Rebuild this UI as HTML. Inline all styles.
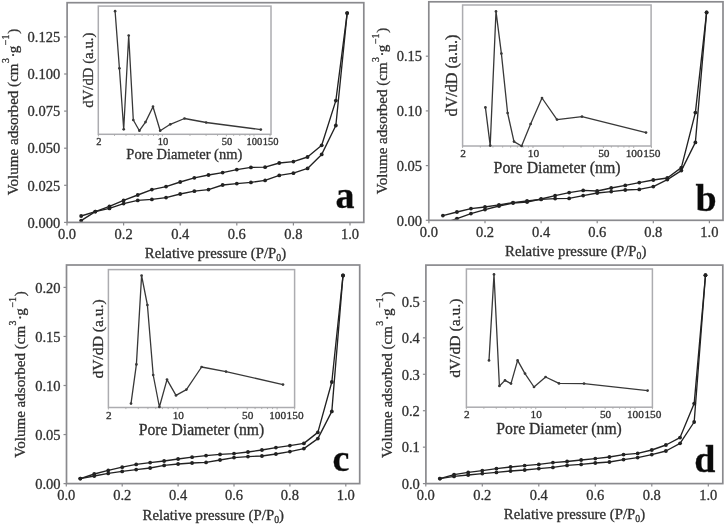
<!DOCTYPE html>
<html><head><meta charset="utf-8"><style>
html,body{margin:0;padding:0;background:#fff;}
svg{display:block;filter:blur(0.35px);}
text{font-family:"Liberation Serif", serif;fill:#303030;stroke:#303030;stroke-width:0.3px;}
</style></head><body>
<svg width="725" height="525" viewBox="0 0 725 525">
<rect width="725" height="525" fill="#fff"/>
<clipPath id="c0"><rect x="67.1" y="2.7" width="296.70000000000005" height="219.70000000000002"/></clipPath>
<line x1="67.00" y1="222.4" x2="67.00" y2="225.4" stroke="#8a8a8e" stroke-width="1.2"/>
<text x="67.00" y="239.0" text-anchor="middle" font-size="14.5">0.0</text>
<line x1="123.60" y1="222.4" x2="123.60" y2="225.4" stroke="#8a8a8e" stroke-width="1.2"/>
<text x="123.60" y="239.0" text-anchor="middle" font-size="14.5">0.2</text>
<line x1="180.20" y1="222.4" x2="180.20" y2="225.4" stroke="#8a8a8e" stroke-width="1.2"/>
<text x="180.20" y="239.0" text-anchor="middle" font-size="14.5">0.4</text>
<line x1="236.80" y1="222.4" x2="236.80" y2="225.4" stroke="#8a8a8e" stroke-width="1.2"/>
<text x="236.80" y="239.0" text-anchor="middle" font-size="14.5">0.6</text>
<line x1="293.40" y1="222.4" x2="293.40" y2="225.4" stroke="#8a8a8e" stroke-width="1.2"/>
<text x="293.40" y="239.0" text-anchor="middle" font-size="14.5">0.8</text>
<line x1="350.00" y1="222.4" x2="350.00" y2="225.4" stroke="#8a8a8e" stroke-width="1.2"/>
<text x="350.00" y="239.0" text-anchor="middle" font-size="14.5">1.0</text>
<line x1="64.1" y1="222.40" x2="67.1" y2="222.40" stroke="#8a8a8e" stroke-width="1.2"/>
<text x="60.2" y="227.62" text-anchor="end" font-size="14.5">0.000</text>
<line x1="64.1" y1="185.30" x2="67.1" y2="185.30" stroke="#8a8a8e" stroke-width="1.2"/>
<text x="60.2" y="190.52" text-anchor="end" font-size="14.5">0.025</text>
<line x1="64.1" y1="148.20" x2="67.1" y2="148.20" stroke="#8a8a8e" stroke-width="1.2"/>
<text x="60.2" y="153.42" text-anchor="end" font-size="14.5">0.050</text>
<line x1="64.1" y1="111.10" x2="67.1" y2="111.10" stroke="#8a8a8e" stroke-width="1.2"/>
<text x="60.2" y="116.32" text-anchor="end" font-size="14.5">0.075</text>
<line x1="64.1" y1="74.00" x2="67.1" y2="74.00" stroke="#8a8a8e" stroke-width="1.2"/>
<text x="60.2" y="79.22" text-anchor="end" font-size="14.5">0.100</text>
<line x1="64.1" y1="36.90" x2="67.1" y2="36.90" stroke="#8a8a8e" stroke-width="1.2"/>
<text x="60.2" y="42.12" text-anchor="end" font-size="14.5">0.125</text>
<text x="215.5" y="258.2" text-anchor="middle" font-size="14.8">Relative pressure (P/P<tspan font-size="9.8" dy="3">0</tspan><tspan dy="-3">)</tspan></text>
<text transform="translate(17.6,112.1) rotate(-90)" text-anchor="middle" font-size="15.07">Volume adsorbed (cm<tspan font-size="9.8" dx="0.4" dy="-8.4">3</tspan><tspan dx="0.6" dy="8.4">·</tspan><tspan dx="-0.8">g</tspan><tspan font-size="9.8" dx="0.6" dy="-8.4">−</tspan><tspan font-size="9.8" dx="0.1">1</tspan><tspan dx="0.8" dy="8.4">)</tspan></text>
<text x="335.6" y="208.3" font-size="38" font-weight="bold" style="fill:#0a0a0a">a</text>
<rect x="98.3" y="6.1" width="172.7" height="128.20000000000002" fill="#fff" stroke="#acacb0" stroke-width="1.5"/>
<line x1="98.40" y1="134.3" x2="98.40" y2="136.3" stroke="#a8a8a8" stroke-width="0.9"/>
<line x1="114.52" y1="134.3" x2="114.52" y2="135.9" stroke="#a8a8a8" stroke-width="0.9"/>
<line x1="125.96" y1="134.3" x2="125.96" y2="135.9" stroke="#a8a8a8" stroke-width="0.9"/>
<line x1="134.84" y1="134.3" x2="134.84" y2="135.9" stroke="#a8a8a8" stroke-width="0.9"/>
<line x1="142.09" y1="134.3" x2="142.09" y2="135.9" stroke="#a8a8a8" stroke-width="0.9"/>
<line x1="148.21" y1="134.3" x2="148.21" y2="135.9" stroke="#a8a8a8" stroke-width="0.9"/>
<line x1="153.52" y1="134.3" x2="153.52" y2="135.9" stroke="#a8a8a8" stroke-width="0.9"/>
<line x1="158.21" y1="134.3" x2="158.21" y2="135.9" stroke="#a8a8a8" stroke-width="0.9"/>
<line x1="162.40" y1="134.3" x2="162.40" y2="136.3" stroke="#a8a8a8" stroke-width="0.9"/>
<line x1="189.96" y1="134.3" x2="189.96" y2="135.9" stroke="#a8a8a8" stroke-width="0.9"/>
<line x1="206.08" y1="134.3" x2="206.08" y2="135.9" stroke="#a8a8a8" stroke-width="0.9"/>
<line x1="217.52" y1="134.3" x2="217.52" y2="135.9" stroke="#a8a8a8" stroke-width="0.9"/>
<line x1="226.40" y1="134.3" x2="226.40" y2="136.3" stroke="#a8a8a8" stroke-width="0.9"/>
<line x1="233.65" y1="134.3" x2="233.65" y2="135.9" stroke="#a8a8a8" stroke-width="0.9"/>
<line x1="239.77" y1="134.3" x2="239.77" y2="135.9" stroke="#a8a8a8" stroke-width="0.9"/>
<line x1="245.08" y1="134.3" x2="245.08" y2="135.9" stroke="#a8a8a8" stroke-width="0.9"/>
<line x1="249.77" y1="134.3" x2="249.77" y2="135.9" stroke="#a8a8a8" stroke-width="0.9"/>
<line x1="253.96" y1="134.3" x2="253.96" y2="136.3" stroke="#a8a8a8" stroke-width="0.9"/>
<line x1="270.08" y1="134.3" x2="270.08" y2="136.3" stroke="#a8a8a8" stroke-width="0.9"/>
<text x="98.90" y="144.6" text-anchor="middle" font-size="10.5">2</text>
<text x="162.90" y="144.6" text-anchor="middle" font-size="10.5">10</text>
<text x="226.90" y="144.6" text-anchor="middle" font-size="10.5">50</text>
<text x="254.46" y="144.6" text-anchor="middle" font-size="10.5">100</text>
<text x="270.58" y="144.6" text-anchor="middle" font-size="10.5">150</text>
<path d="M115.10,11.20 L119.40,68.30 L123.70,129.30 L128.70,35.50 L133.30,120.00 L139.40,130.70 L145.50,122.10 L153.00,106.70 L160.20,130.70 L170.30,124.30 L184.50,118.50 L206.20,122.50 L260.80,129.60" fill="none" stroke="#383838" stroke-width="1.3" stroke-linejoin="round"/>
<circle cx="115.10" cy="11.20" r="1.35" fill="#383838"/>
<circle cx="119.40" cy="68.30" r="1.35" fill="#383838"/>
<circle cx="123.70" cy="129.30" r="1.35" fill="#383838"/>
<circle cx="128.70" cy="35.50" r="1.35" fill="#383838"/>
<circle cx="133.30" cy="120.00" r="1.35" fill="#383838"/>
<circle cx="139.40" cy="130.70" r="1.35" fill="#383838"/>
<circle cx="145.50" cy="122.10" r="1.35" fill="#383838"/>
<circle cx="153.00" cy="106.70" r="1.35" fill="#383838"/>
<circle cx="160.20" cy="130.70" r="1.35" fill="#383838"/>
<circle cx="170.30" cy="124.30" r="1.35" fill="#383838"/>
<circle cx="184.50" cy="118.50" r="1.35" fill="#383838"/>
<circle cx="206.20" cy="122.50" r="1.35" fill="#383838"/>
<circle cx="260.80" cy="129.60" r="1.35" fill="#383838"/>
<text x="184.3" y="159.3" text-anchor="middle" font-size="14.5">Pore Diameter (nm)</text>
<text transform="translate(92.5,70.2) rotate(-90)" text-anchor="middle" font-size="14.8">dV/dD (a.u.)</text>
<g clip-path="url(#c0)">
<path d="M81.15,220.60 L95.30,211.60 L109.45,206.40 L123.60,200.40 L137.75,195.00 L151.90,189.60 L166.05,186.60 L180.20,182.00 L194.35,177.80 L208.50,175.00 L222.65,172.60 L236.80,169.60 L250.95,167.40 L265.10,167.20 L279.25,163.00 L293.40,161.60 L307.55,157.00 L321.70,145.30 L335.85,100.60 L347.17,13.10" fill="none" stroke="#222222" stroke-width="1.35" stroke-linejoin="round"/>
<circle cx="81.15" cy="220.60" r="1.9" fill="#222222"/>
<circle cx="95.30" cy="211.60" r="1.9" fill="#222222"/>
<circle cx="109.45" cy="206.40" r="1.9" fill="#222222"/>
<circle cx="123.60" cy="200.40" r="1.9" fill="#222222"/>
<circle cx="137.75" cy="195.00" r="1.9" fill="#222222"/>
<circle cx="151.90" cy="189.60" r="1.9" fill="#222222"/>
<circle cx="166.05" cy="186.60" r="1.9" fill="#222222"/>
<circle cx="180.20" cy="182.00" r="1.9" fill="#222222"/>
<circle cx="194.35" cy="177.80" r="1.9" fill="#222222"/>
<circle cx="208.50" cy="175.00" r="1.9" fill="#222222"/>
<circle cx="222.65" cy="172.60" r="1.9" fill="#222222"/>
<circle cx="236.80" cy="169.60" r="1.9" fill="#222222"/>
<circle cx="250.95" cy="167.40" r="1.9" fill="#222222"/>
<circle cx="265.10" cy="167.20" r="1.9" fill="#222222"/>
<circle cx="279.25" cy="163.00" r="1.9" fill="#222222"/>
<circle cx="293.40" cy="161.60" r="1.9" fill="#222222"/>
<circle cx="307.55" cy="157.00" r="1.9" fill="#222222"/>
<circle cx="321.70" cy="145.30" r="1.9" fill="#222222"/>
<circle cx="335.85" cy="100.60" r="1.9" fill="#222222"/>
<circle cx="347.17" cy="13.10" r="1.9" fill="#222222"/>
<path d="M81.15,216.00 L95.30,211.60 L109.45,208.40 L123.60,203.60 L137.75,200.40 L151.90,199.40 L166.05,197.60 L180.20,194.00 L194.35,191.20 L208.50,189.60 L222.65,185.00 L236.80,183.60 L250.95,182.40 L265.10,180.40 L279.25,175.40 L293.40,173.20 L307.55,168.40 L321.70,154.40 L335.85,125.50 L347.17,13.10" fill="none" stroke="#222222" stroke-width="1.35" stroke-linejoin="round"/>
<circle cx="81.15" cy="216.00" r="1.9" fill="#222222"/>
<circle cx="95.30" cy="211.60" r="1.9" fill="#222222"/>
<circle cx="109.45" cy="208.40" r="1.9" fill="#222222"/>
<circle cx="123.60" cy="203.60" r="1.9" fill="#222222"/>
<circle cx="137.75" cy="200.40" r="1.9" fill="#222222"/>
<circle cx="151.90" cy="199.40" r="1.9" fill="#222222"/>
<circle cx="166.05" cy="197.60" r="1.9" fill="#222222"/>
<circle cx="180.20" cy="194.00" r="1.9" fill="#222222"/>
<circle cx="194.35" cy="191.20" r="1.9" fill="#222222"/>
<circle cx="208.50" cy="189.60" r="1.9" fill="#222222"/>
<circle cx="222.65" cy="185.00" r="1.9" fill="#222222"/>
<circle cx="236.80" cy="183.60" r="1.9" fill="#222222"/>
<circle cx="250.95" cy="182.40" r="1.9" fill="#222222"/>
<circle cx="265.10" cy="180.40" r="1.9" fill="#222222"/>
<circle cx="279.25" cy="175.40" r="1.9" fill="#222222"/>
<circle cx="293.40" cy="173.20" r="1.9" fill="#222222"/>
<circle cx="307.55" cy="168.40" r="1.9" fill="#222222"/>
<circle cx="321.70" cy="154.40" r="1.9" fill="#222222"/>
<circle cx="335.85" cy="125.50" r="1.9" fill="#222222"/>
<circle cx="347.17" cy="13.10" r="1.9" fill="#222222"/>
</g>
<rect x="67.1" y="2.7" width="296.70000000000005" height="219.70000000000002" fill="none" stroke="#8a8a8e" stroke-width="1.7"/>
<clipPath id="c1"><rect x="428.8" y="1.8" width="294.2" height="218.5"/></clipPath>
<line x1="428.90" y1="220.3" x2="428.90" y2="223.3" stroke="#8a8a8e" stroke-width="1.2"/>
<text x="428.90" y="237.0" text-anchor="middle" font-size="14.5">0.0</text>
<line x1="485.00" y1="220.3" x2="485.00" y2="223.3" stroke="#8a8a8e" stroke-width="1.2"/>
<text x="485.00" y="237.0" text-anchor="middle" font-size="14.5">0.2</text>
<line x1="541.10" y1="220.3" x2="541.10" y2="223.3" stroke="#8a8a8e" stroke-width="1.2"/>
<text x="541.10" y="237.0" text-anchor="middle" font-size="14.5">0.4</text>
<line x1="597.20" y1="220.3" x2="597.20" y2="223.3" stroke="#8a8a8e" stroke-width="1.2"/>
<text x="597.20" y="237.0" text-anchor="middle" font-size="14.5">0.6</text>
<line x1="653.30" y1="220.3" x2="653.30" y2="223.3" stroke="#8a8a8e" stroke-width="1.2"/>
<text x="653.30" y="237.0" text-anchor="middle" font-size="14.5">0.8</text>
<line x1="709.40" y1="220.3" x2="709.40" y2="223.3" stroke="#8a8a8e" stroke-width="1.2"/>
<text x="709.40" y="237.0" text-anchor="middle" font-size="14.5">1.0</text>
<line x1="425.8" y1="220.30" x2="428.8" y2="220.30" stroke="#8a8a8e" stroke-width="1.2"/>
<text x="422.0" y="225.52" text-anchor="end" font-size="14.5">0.00</text>
<line x1="425.8" y1="165.60" x2="428.8" y2="165.60" stroke="#8a8a8e" stroke-width="1.2"/>
<text x="422.0" y="170.82" text-anchor="end" font-size="14.5">0.05</text>
<line x1="425.8" y1="110.90" x2="428.8" y2="110.90" stroke="#8a8a8e" stroke-width="1.2"/>
<text x="422.0" y="116.12" text-anchor="end" font-size="14.5">0.10</text>
<line x1="425.8" y1="56.20" x2="428.8" y2="56.20" stroke="#8a8a8e" stroke-width="1.2"/>
<text x="422.0" y="61.42" text-anchor="end" font-size="14.5">0.15</text>
<text x="575.7" y="256.2" text-anchor="middle" font-size="14.8">Relative pressure (P/P<tspan font-size="9.8" dy="3">0</tspan><tspan dy="-3">)</tspan></text>
<text transform="translate(387.3,111.0) rotate(-90)" text-anchor="middle" font-size="15.07">Volume adsorbed (cm<tspan font-size="9.8" dx="0.4" dy="-8.4">3</tspan><tspan dx="0.6" dy="8.4">·</tspan><tspan dx="-0.8">g</tspan><tspan font-size="9.8" dx="0.6" dy="-8.4">−</tspan><tspan font-size="9.8" dx="0.1">1</tspan><tspan dx="0.8" dy="8.4">)</tspan></text>
<text x="695.5" y="210.6" font-size="38" font-weight="bold" style="fill:#0a0a0a">b</text>
<rect x="462.6" y="5.0" width="188.5" height="141.0" fill="#fff" stroke="#acacb0" stroke-width="1.5"/>
<line x1="462.60" y1="146.0" x2="462.60" y2="148.0" stroke="#a8a8a8" stroke-width="0.9"/>
<line x1="480.33" y1="146.0" x2="480.33" y2="147.6" stroke="#a8a8a8" stroke-width="0.9"/>
<line x1="492.91" y1="146.0" x2="492.91" y2="147.6" stroke="#a8a8a8" stroke-width="0.9"/>
<line x1="502.67" y1="146.0" x2="502.67" y2="147.6" stroke="#a8a8a8" stroke-width="0.9"/>
<line x1="510.65" y1="146.0" x2="510.65" y2="147.6" stroke="#a8a8a8" stroke-width="0.9"/>
<line x1="517.39" y1="146.0" x2="517.39" y2="147.6" stroke="#a8a8a8" stroke-width="0.9"/>
<line x1="523.23" y1="146.0" x2="523.23" y2="147.6" stroke="#a8a8a8" stroke-width="0.9"/>
<line x1="528.38" y1="146.0" x2="528.38" y2="147.6" stroke="#a8a8a8" stroke-width="0.9"/>
<line x1="532.99" y1="146.0" x2="532.99" y2="148.0" stroke="#a8a8a8" stroke-width="0.9"/>
<line x1="563.30" y1="146.0" x2="563.30" y2="147.6" stroke="#a8a8a8" stroke-width="0.9"/>
<line x1="581.03" y1="146.0" x2="581.03" y2="147.6" stroke="#a8a8a8" stroke-width="0.9"/>
<line x1="593.61" y1="146.0" x2="593.61" y2="147.6" stroke="#a8a8a8" stroke-width="0.9"/>
<line x1="603.37" y1="146.0" x2="603.37" y2="148.0" stroke="#a8a8a8" stroke-width="0.9"/>
<line x1="611.35" y1="146.0" x2="611.35" y2="147.6" stroke="#a8a8a8" stroke-width="0.9"/>
<line x1="618.09" y1="146.0" x2="618.09" y2="147.6" stroke="#a8a8a8" stroke-width="0.9"/>
<line x1="623.93" y1="146.0" x2="623.93" y2="147.6" stroke="#a8a8a8" stroke-width="0.9"/>
<line x1="629.08" y1="146.0" x2="629.08" y2="147.6" stroke="#a8a8a8" stroke-width="0.9"/>
<line x1="633.69" y1="146.0" x2="633.69" y2="148.0" stroke="#a8a8a8" stroke-width="0.9"/>
<line x1="651.42" y1="146.0" x2="651.42" y2="148.0" stroke="#a8a8a8" stroke-width="0.9"/>
<text x="463.10" y="157.4" text-anchor="middle" font-size="11.4">2</text>
<text x="533.49" y="157.4" text-anchor="middle" font-size="11.4">10</text>
<text x="603.87" y="157.4" text-anchor="middle" font-size="11.4">50</text>
<text x="634.19" y="157.4" text-anchor="middle" font-size="11.4">100</text>
<text x="651.92" y="157.4" text-anchor="middle" font-size="11.4">150</text>
<path d="M485.40,107.40 L490.20,145.60 L496.00,11.40 L501.40,53.60 L507.60,113.00 L514.00,141.60 L521.60,146.00 L530.60,124.00 L542.00,98.00 L557.00,119.60 L582.00,116.60 L646.00,132.60" fill="none" stroke="#383838" stroke-width="1.3" stroke-linejoin="round"/>
<circle cx="485.40" cy="107.40" r="1.35" fill="#383838"/>
<circle cx="490.20" cy="145.60" r="1.35" fill="#383838"/>
<circle cx="496.00" cy="11.40" r="1.35" fill="#383838"/>
<circle cx="501.40" cy="53.60" r="1.35" fill="#383838"/>
<circle cx="507.60" cy="113.00" r="1.35" fill="#383838"/>
<circle cx="514.00" cy="141.60" r="1.35" fill="#383838"/>
<circle cx="521.60" cy="146.00" r="1.35" fill="#383838"/>
<circle cx="530.60" cy="124.00" r="1.35" fill="#383838"/>
<circle cx="542.00" cy="98.00" r="1.35" fill="#383838"/>
<circle cx="557.00" cy="119.60" r="1.35" fill="#383838"/>
<circle cx="582.00" cy="116.60" r="1.35" fill="#383838"/>
<circle cx="646.00" cy="132.60" r="1.35" fill="#383838"/>
<text x="557.1" y="173.2" text-anchor="middle" font-size="15.9">Pore Diameter (nm)</text>
<text transform="translate(456.6,75.5) rotate(-90)" text-anchor="middle" font-size="16.1">dV/dD (a.u.)</text>
<g clip-path="url(#c1)">
<path d="M442.92,223.50 L456.95,218.60 L470.97,213.60 L485.00,209.60 L499.02,206.00 L513.05,203.00 L527.07,202.00 L541.10,199.00 L555.12,195.60 L569.15,192.60 L583.17,190.40 L597.20,191.00 L611.23,188.00 L625.25,185.40 L639.27,182.60 L653.30,180.00 L667.32,178.00 L681.35,167.60 L695.38,112.60 L706.60,12.40" fill="none" stroke="#222222" stroke-width="1.35" stroke-linejoin="round"/>
<circle cx="442.92" cy="223.50" r="1.9" fill="#222222"/>
<circle cx="456.95" cy="218.60" r="1.9" fill="#222222"/>
<circle cx="470.97" cy="213.60" r="1.9" fill="#222222"/>
<circle cx="485.00" cy="209.60" r="1.9" fill="#222222"/>
<circle cx="499.02" cy="206.00" r="1.9" fill="#222222"/>
<circle cx="513.05" cy="203.00" r="1.9" fill="#222222"/>
<circle cx="527.07" cy="202.00" r="1.9" fill="#222222"/>
<circle cx="541.10" cy="199.00" r="1.9" fill="#222222"/>
<circle cx="555.12" cy="195.60" r="1.9" fill="#222222"/>
<circle cx="569.15" cy="192.60" r="1.9" fill="#222222"/>
<circle cx="583.17" cy="190.40" r="1.9" fill="#222222"/>
<circle cx="597.20" cy="191.00" r="1.9" fill="#222222"/>
<circle cx="611.23" cy="188.00" r="1.9" fill="#222222"/>
<circle cx="625.25" cy="185.40" r="1.9" fill="#222222"/>
<circle cx="639.27" cy="182.60" r="1.9" fill="#222222"/>
<circle cx="653.30" cy="180.00" r="1.9" fill="#222222"/>
<circle cx="667.32" cy="178.00" r="1.9" fill="#222222"/>
<circle cx="681.35" cy="167.60" r="1.9" fill="#222222"/>
<circle cx="695.38" cy="112.60" r="1.9" fill="#222222"/>
<circle cx="706.60" cy="12.40" r="1.9" fill="#222222"/>
<path d="M442.92,215.60 L456.95,212.00 L470.97,208.60 L485.00,207.00 L499.02,204.80 L513.05,202.60 L527.07,201.00 L541.10,199.40 L555.12,198.60 L569.15,198.40 L583.17,195.60 L597.20,193.00 L611.23,191.60 L625.25,190.00 L639.27,189.40 L653.30,186.60 L667.32,179.60 L681.35,170.60 L695.38,142.40 L706.60,12.40" fill="none" stroke="#222222" stroke-width="1.35" stroke-linejoin="round"/>
<circle cx="442.92" cy="215.60" r="1.9" fill="#222222"/>
<circle cx="456.95" cy="212.00" r="1.9" fill="#222222"/>
<circle cx="470.97" cy="208.60" r="1.9" fill="#222222"/>
<circle cx="485.00" cy="207.00" r="1.9" fill="#222222"/>
<circle cx="499.02" cy="204.80" r="1.9" fill="#222222"/>
<circle cx="513.05" cy="202.60" r="1.9" fill="#222222"/>
<circle cx="527.07" cy="201.00" r="1.9" fill="#222222"/>
<circle cx="541.10" cy="199.40" r="1.9" fill="#222222"/>
<circle cx="555.12" cy="198.60" r="1.9" fill="#222222"/>
<circle cx="569.15" cy="198.40" r="1.9" fill="#222222"/>
<circle cx="583.17" cy="195.60" r="1.9" fill="#222222"/>
<circle cx="597.20" cy="193.00" r="1.9" fill="#222222"/>
<circle cx="611.23" cy="191.60" r="1.9" fill="#222222"/>
<circle cx="625.25" cy="190.00" r="1.9" fill="#222222"/>
<circle cx="639.27" cy="189.40" r="1.9" fill="#222222"/>
<circle cx="653.30" cy="186.60" r="1.9" fill="#222222"/>
<circle cx="667.32" cy="179.60" r="1.9" fill="#222222"/>
<circle cx="681.35" cy="170.60" r="1.9" fill="#222222"/>
<circle cx="695.38" cy="142.40" r="1.9" fill="#222222"/>
<circle cx="706.60" cy="12.40" r="1.9" fill="#222222"/>
</g>
<rect x="428.8" y="1.8" width="294.2" height="218.5" fill="none" stroke="#8a8a8e" stroke-width="1.7"/>
<clipPath id="c2"><rect x="66.5" y="265.0" width="293.2" height="218.60000000000002"/></clipPath>
<line x1="66.30" y1="483.6" x2="66.30" y2="486.6" stroke="#8a8a8e" stroke-width="1.2"/>
<text x="66.30" y="500.4" text-anchor="middle" font-size="14.5">0.0</text>
<line x1="122.20" y1="483.6" x2="122.20" y2="486.6" stroke="#8a8a8e" stroke-width="1.2"/>
<text x="122.20" y="500.4" text-anchor="middle" font-size="14.5">0.2</text>
<line x1="178.10" y1="483.6" x2="178.10" y2="486.6" stroke="#8a8a8e" stroke-width="1.2"/>
<text x="178.10" y="500.4" text-anchor="middle" font-size="14.5">0.4</text>
<line x1="234.00" y1="483.6" x2="234.00" y2="486.6" stroke="#8a8a8e" stroke-width="1.2"/>
<text x="234.00" y="500.4" text-anchor="middle" font-size="14.5">0.6</text>
<line x1="289.90" y1="483.6" x2="289.90" y2="486.6" stroke="#8a8a8e" stroke-width="1.2"/>
<text x="289.90" y="500.4" text-anchor="middle" font-size="14.5">0.8</text>
<line x1="345.80" y1="483.6" x2="345.80" y2="486.6" stroke="#8a8a8e" stroke-width="1.2"/>
<text x="345.80" y="500.4" text-anchor="middle" font-size="14.5">1.0</text>
<line x1="63.5" y1="483.60" x2="66.5" y2="483.60" stroke="#8a8a8e" stroke-width="1.2"/>
<text x="60.6" y="488.82" text-anchor="end" font-size="14.5">0.00</text>
<line x1="63.5" y1="434.55" x2="66.5" y2="434.55" stroke="#8a8a8e" stroke-width="1.2"/>
<text x="60.6" y="439.77" text-anchor="end" font-size="14.5">0.05</text>
<line x1="63.5" y1="385.50" x2="66.5" y2="385.50" stroke="#8a8a8e" stroke-width="1.2"/>
<text x="60.6" y="390.72" text-anchor="end" font-size="14.5">0.10</text>
<line x1="63.5" y1="336.45" x2="66.5" y2="336.45" stroke="#8a8a8e" stroke-width="1.2"/>
<text x="60.6" y="341.67" text-anchor="end" font-size="14.5">0.15</text>
<line x1="63.5" y1="287.40" x2="66.5" y2="287.40" stroke="#8a8a8e" stroke-width="1.2"/>
<text x="60.6" y="292.62" text-anchor="end" font-size="14.5">0.20</text>
<text x="213.3" y="520.0" text-anchor="middle" font-size="14.8">Relative pressure (P/P<tspan font-size="9.8" dy="3">0</tspan><tspan dy="-3">)</tspan></text>
<text transform="translate(24.5,374.5) rotate(-90)" text-anchor="middle" font-size="15.07">Volume adsorbed (cm<tspan font-size="9.8" dx="0.4" dy="-8.4">3</tspan><tspan dx="0.6" dy="8.4">·</tspan><tspan dx="-0.8">g</tspan><tspan font-size="9.8" dx="0.6" dy="-8.4">−</tspan><tspan font-size="9.8" dx="0.1">1</tspan><tspan dx="0.8" dy="8.4">)</tspan></text>
<text x="332.4" y="470.5" font-size="38" font-weight="bold" style="fill:#0a0a0a">c</text>
<rect x="108.4" y="269.6" width="186.20000000000002" height="137.89999999999998" fill="#fff" stroke="#acacb0" stroke-width="1.5"/>
<line x1="108.40" y1="407.5" x2="108.40" y2="409.5" stroke="#a8a8a8" stroke-width="0.9"/>
<line x1="125.89" y1="407.5" x2="125.89" y2="409.1" stroke="#a8a8a8" stroke-width="0.9"/>
<line x1="138.29" y1="407.5" x2="138.29" y2="409.1" stroke="#a8a8a8" stroke-width="0.9"/>
<line x1="147.92" y1="407.5" x2="147.92" y2="409.1" stroke="#a8a8a8" stroke-width="0.9"/>
<line x1="155.78" y1="407.5" x2="155.78" y2="409.1" stroke="#a8a8a8" stroke-width="0.9"/>
<line x1="162.43" y1="407.5" x2="162.43" y2="409.1" stroke="#a8a8a8" stroke-width="0.9"/>
<line x1="168.18" y1="407.5" x2="168.18" y2="409.1" stroke="#a8a8a8" stroke-width="0.9"/>
<line x1="173.26" y1="407.5" x2="173.26" y2="409.1" stroke="#a8a8a8" stroke-width="0.9"/>
<line x1="177.81" y1="407.5" x2="177.81" y2="409.5" stroke="#a8a8a8" stroke-width="0.9"/>
<line x1="207.70" y1="407.5" x2="207.70" y2="409.1" stroke="#a8a8a8" stroke-width="0.9"/>
<line x1="225.19" y1="407.5" x2="225.19" y2="409.1" stroke="#a8a8a8" stroke-width="0.9"/>
<line x1="237.59" y1="407.5" x2="237.59" y2="409.1" stroke="#a8a8a8" stroke-width="0.9"/>
<line x1="247.22" y1="407.5" x2="247.22" y2="409.5" stroke="#a8a8a8" stroke-width="0.9"/>
<line x1="255.08" y1="407.5" x2="255.08" y2="409.1" stroke="#a8a8a8" stroke-width="0.9"/>
<line x1="261.73" y1="407.5" x2="261.73" y2="409.1" stroke="#a8a8a8" stroke-width="0.9"/>
<line x1="267.48" y1="407.5" x2="267.48" y2="409.1" stroke="#a8a8a8" stroke-width="0.9"/>
<line x1="272.56" y1="407.5" x2="272.56" y2="409.1" stroke="#a8a8a8" stroke-width="0.9"/>
<line x1="277.11" y1="407.5" x2="277.11" y2="409.5" stroke="#a8a8a8" stroke-width="0.9"/>
<line x1="294.59" y1="407.5" x2="294.59" y2="409.5" stroke="#a8a8a8" stroke-width="0.9"/>
<text x="108.90" y="419.0" text-anchor="middle" font-size="11.3">2</text>
<text x="178.31" y="419.0" text-anchor="middle" font-size="11.3">10</text>
<text x="247.72" y="419.0" text-anchor="middle" font-size="11.3">50</text>
<text x="277.61" y="419.0" text-anchor="middle" font-size="11.3">100</text>
<text x="295.09" y="419.0" text-anchor="middle" font-size="11.3">150</text>
<path d="M131.00,403.60 L136.40,364.40 L141.60,275.60 L147.40,305.00 L153.20,375.00 L159.40,407.00 L167.00,379.60 L176.00,395.40 L186.40,389.60 L201.60,367.00 L226.00,371.60 L283.00,384.60" fill="none" stroke="#383838" stroke-width="1.3" stroke-linejoin="round"/>
<circle cx="131.00" cy="403.60" r="1.35" fill="#383838"/>
<circle cx="136.40" cy="364.40" r="1.35" fill="#383838"/>
<circle cx="141.60" cy="275.60" r="1.35" fill="#383838"/>
<circle cx="147.40" cy="305.00" r="1.35" fill="#383838"/>
<circle cx="153.20" cy="375.00" r="1.35" fill="#383838"/>
<circle cx="159.40" cy="407.00" r="1.35" fill="#383838"/>
<circle cx="167.00" cy="379.60" r="1.35" fill="#383838"/>
<circle cx="176.00" cy="395.40" r="1.35" fill="#383838"/>
<circle cx="186.40" cy="389.60" r="1.35" fill="#383838"/>
<circle cx="201.60" cy="367.00" r="1.35" fill="#383838"/>
<circle cx="226.00" cy="371.60" r="1.35" fill="#383838"/>
<circle cx="283.00" cy="384.60" r="1.35" fill="#383838"/>
<text x="201.5" y="435.0" text-anchor="middle" font-size="15.7">Pore Diameter (nm)</text>
<text transform="translate(102.7,338.9) rotate(-90)" text-anchor="middle" font-size="15.6">dV/dD (a.u.)</text>
<g clip-path="url(#c2)">
<path d="M80.28,478.60 L94.25,474.00 L108.22,470.40 L122.20,467.20 L136.18,464.40 L150.15,462.60 L164.12,461.00 L178.10,459.00 L192.07,457.20 L206.05,455.60 L220.03,454.40 L234.00,453.60 L247.98,452.00 L261.95,450.00 L275.93,447.60 L289.90,445.60 L303.88,443.40 L317.85,432.40 L331.82,382.00 L343.00,275.50" fill="none" stroke="#222222" stroke-width="1.35" stroke-linejoin="round"/>
<circle cx="80.28" cy="478.60" r="1.9" fill="#222222"/>
<circle cx="94.25" cy="474.00" r="1.9" fill="#222222"/>
<circle cx="108.22" cy="470.40" r="1.9" fill="#222222"/>
<circle cx="122.20" cy="467.20" r="1.9" fill="#222222"/>
<circle cx="136.18" cy="464.40" r="1.9" fill="#222222"/>
<circle cx="150.15" cy="462.60" r="1.9" fill="#222222"/>
<circle cx="164.12" cy="461.00" r="1.9" fill="#222222"/>
<circle cx="178.10" cy="459.00" r="1.9" fill="#222222"/>
<circle cx="192.07" cy="457.20" r="1.9" fill="#222222"/>
<circle cx="206.05" cy="455.60" r="1.9" fill="#222222"/>
<circle cx="220.03" cy="454.40" r="1.9" fill="#222222"/>
<circle cx="234.00" cy="453.60" r="1.9" fill="#222222"/>
<circle cx="247.98" cy="452.00" r="1.9" fill="#222222"/>
<circle cx="261.95" cy="450.00" r="1.9" fill="#222222"/>
<circle cx="275.93" cy="447.60" r="1.9" fill="#222222"/>
<circle cx="289.90" cy="445.60" r="1.9" fill="#222222"/>
<circle cx="303.88" cy="443.40" r="1.9" fill="#222222"/>
<circle cx="317.85" cy="432.40" r="1.9" fill="#222222"/>
<circle cx="331.82" cy="382.00" r="1.9" fill="#222222"/>
<circle cx="343.00" cy="275.50" r="1.9" fill="#222222"/>
<path d="M80.28,478.60 L94.25,476.00 L108.22,473.40 L122.20,471.40 L136.18,469.60 L150.15,468.00 L164.12,465.40 L178.10,464.00 L192.07,463.00 L206.05,462.40 L220.03,460.00 L234.00,457.60 L247.98,456.60 L261.95,456.00 L275.93,454.00 L289.90,451.60 L303.88,448.60 L317.85,438.60 L331.82,411.40 L343.00,275.50" fill="none" stroke="#222222" stroke-width="1.35" stroke-linejoin="round"/>
<circle cx="80.28" cy="478.60" r="1.9" fill="#222222"/>
<circle cx="94.25" cy="476.00" r="1.9" fill="#222222"/>
<circle cx="108.22" cy="473.40" r="1.9" fill="#222222"/>
<circle cx="122.20" cy="471.40" r="1.9" fill="#222222"/>
<circle cx="136.18" cy="469.60" r="1.9" fill="#222222"/>
<circle cx="150.15" cy="468.00" r="1.9" fill="#222222"/>
<circle cx="164.12" cy="465.40" r="1.9" fill="#222222"/>
<circle cx="178.10" cy="464.00" r="1.9" fill="#222222"/>
<circle cx="192.07" cy="463.00" r="1.9" fill="#222222"/>
<circle cx="206.05" cy="462.40" r="1.9" fill="#222222"/>
<circle cx="220.03" cy="460.00" r="1.9" fill="#222222"/>
<circle cx="234.00" cy="457.60" r="1.9" fill="#222222"/>
<circle cx="247.98" cy="456.60" r="1.9" fill="#222222"/>
<circle cx="261.95" cy="456.00" r="1.9" fill="#222222"/>
<circle cx="275.93" cy="454.00" r="1.9" fill="#222222"/>
<circle cx="289.90" cy="451.60" r="1.9" fill="#222222"/>
<circle cx="303.88" cy="448.60" r="1.9" fill="#222222"/>
<circle cx="317.85" cy="438.60" r="1.9" fill="#222222"/>
<circle cx="331.82" cy="411.40" r="1.9" fill="#222222"/>
<circle cx="343.00" cy="275.50" r="1.9" fill="#222222"/>
</g>
<rect x="66.5" y="265.0" width="293.2" height="218.60000000000002" fill="none" stroke="#8a8a8e" stroke-width="1.7"/>
<clipPath id="c3"><rect x="425.9" y="265.1" width="296.9" height="218.5"/></clipPath>
<line x1="425.80" y1="483.6" x2="425.80" y2="486.6" stroke="#8a8a8e" stroke-width="1.2"/>
<text x="425.80" y="500.4" text-anchor="middle" font-size="14.5">0.0</text>
<line x1="482.30" y1="483.6" x2="482.30" y2="486.6" stroke="#8a8a8e" stroke-width="1.2"/>
<text x="482.30" y="500.4" text-anchor="middle" font-size="14.5">0.2</text>
<line x1="538.80" y1="483.6" x2="538.80" y2="486.6" stroke="#8a8a8e" stroke-width="1.2"/>
<text x="538.80" y="500.4" text-anchor="middle" font-size="14.5">0.4</text>
<line x1="595.30" y1="483.6" x2="595.30" y2="486.6" stroke="#8a8a8e" stroke-width="1.2"/>
<text x="595.30" y="500.4" text-anchor="middle" font-size="14.5">0.6</text>
<line x1="651.80" y1="483.6" x2="651.80" y2="486.6" stroke="#8a8a8e" stroke-width="1.2"/>
<text x="651.80" y="500.4" text-anchor="middle" font-size="14.5">0.8</text>
<line x1="708.30" y1="483.6" x2="708.30" y2="486.6" stroke="#8a8a8e" stroke-width="1.2"/>
<text x="708.30" y="500.4" text-anchor="middle" font-size="14.5">1.0</text>
<line x1="422.9" y1="483.60" x2="425.9" y2="483.60" stroke="#8a8a8e" stroke-width="1.2"/>
<text x="419.8" y="488.82" text-anchor="end" font-size="14.5">0.0</text>
<line x1="422.9" y1="447.16" x2="425.9" y2="447.16" stroke="#8a8a8e" stroke-width="1.2"/>
<text x="419.8" y="452.38" text-anchor="end" font-size="14.5">0.1</text>
<line x1="422.9" y1="410.72" x2="425.9" y2="410.72" stroke="#8a8a8e" stroke-width="1.2"/>
<text x="419.8" y="415.94" text-anchor="end" font-size="14.5">0.2</text>
<line x1="422.9" y1="374.28" x2="425.9" y2="374.28" stroke="#8a8a8e" stroke-width="1.2"/>
<text x="419.8" y="379.50" text-anchor="end" font-size="14.5">0.3</text>
<line x1="422.9" y1="337.84" x2="425.9" y2="337.84" stroke="#8a8a8e" stroke-width="1.2"/>
<text x="419.8" y="343.06" text-anchor="end" font-size="14.5">0.4</text>
<line x1="422.9" y1="301.40" x2="425.9" y2="301.40" stroke="#8a8a8e" stroke-width="1.2"/>
<text x="419.8" y="306.62" text-anchor="end" font-size="14.5">0.5</text>
<text x="574.5" y="519.1" text-anchor="middle" font-size="14.8">Relative pressure (P/P<tspan font-size="9.8" dy="3">0</tspan><tspan dy="-3">)</tspan></text>
<text transform="translate(391.7,374.7) rotate(-90)" text-anchor="middle" font-size="15.07">Volume adsorbed (cm<tspan font-size="9.8" dx="0.4" dy="-8.4">3</tspan><tspan dx="0.6" dy="8.4">·</tspan><tspan dx="-0.8">g</tspan><tspan font-size="9.8" dx="0.6" dy="-8.4">−</tspan><tspan font-size="9.8" dx="0.1">1</tspan><tspan dx="0.8" dy="8.4">)</tspan></text>
<text x="694.2" y="471.8" font-size="38" font-weight="bold" style="fill:#0a0a0a">d</text>
<rect x="466.4" y="269.0" width="186.0" height="138.2" fill="#fff" stroke="#acacb0" stroke-width="1.5"/>
<line x1="466.40" y1="407.2" x2="466.40" y2="409.2" stroke="#a8a8a8" stroke-width="0.9"/>
<line x1="483.87" y1="407.2" x2="483.87" y2="408.8" stroke="#a8a8a8" stroke-width="0.9"/>
<line x1="496.26" y1="407.2" x2="496.26" y2="408.8" stroke="#a8a8a8" stroke-width="0.9"/>
<line x1="505.88" y1="407.2" x2="505.88" y2="408.8" stroke="#a8a8a8" stroke-width="0.9"/>
<line x1="513.73" y1="407.2" x2="513.73" y2="408.8" stroke="#a8a8a8" stroke-width="0.9"/>
<line x1="520.37" y1="407.2" x2="520.37" y2="408.8" stroke="#a8a8a8" stroke-width="0.9"/>
<line x1="526.12" y1="407.2" x2="526.12" y2="408.8" stroke="#a8a8a8" stroke-width="0.9"/>
<line x1="531.20" y1="407.2" x2="531.20" y2="408.8" stroke="#a8a8a8" stroke-width="0.9"/>
<line x1="535.74" y1="407.2" x2="535.74" y2="409.2" stroke="#a8a8a8" stroke-width="0.9"/>
<line x1="565.60" y1="407.2" x2="565.60" y2="408.8" stroke="#a8a8a8" stroke-width="0.9"/>
<line x1="583.07" y1="407.2" x2="583.07" y2="408.8" stroke="#a8a8a8" stroke-width="0.9"/>
<line x1="595.46" y1="407.2" x2="595.46" y2="408.8" stroke="#a8a8a8" stroke-width="0.9"/>
<line x1="605.08" y1="407.2" x2="605.08" y2="409.2" stroke="#a8a8a8" stroke-width="0.9"/>
<line x1="612.93" y1="407.2" x2="612.93" y2="408.8" stroke="#a8a8a8" stroke-width="0.9"/>
<line x1="619.57" y1="407.2" x2="619.57" y2="408.8" stroke="#a8a8a8" stroke-width="0.9"/>
<line x1="625.32" y1="407.2" x2="625.32" y2="408.8" stroke="#a8a8a8" stroke-width="0.9"/>
<line x1="630.40" y1="407.2" x2="630.40" y2="408.8" stroke="#a8a8a8" stroke-width="0.9"/>
<line x1="634.94" y1="407.2" x2="634.94" y2="409.2" stroke="#a8a8a8" stroke-width="0.9"/>
<line x1="652.41" y1="407.2" x2="652.41" y2="409.2" stroke="#a8a8a8" stroke-width="0.9"/>
<text x="466.90" y="418.3" text-anchor="middle" font-size="11.3">2</text>
<text x="536.24" y="418.3" text-anchor="middle" font-size="11.3">10</text>
<text x="605.58" y="418.3" text-anchor="middle" font-size="11.3">50</text>
<text x="635.44" y="418.3" text-anchor="middle" font-size="11.3">100</text>
<text x="652.91" y="418.3" text-anchor="middle" font-size="11.3">150</text>
<path d="M489.00,360.40 L494.00,274.40 L499.40,386.00 L505.00,380.40 L511.00,383.60 L517.60,360.40 L525.00,373.60 L534.00,387.00 L545.60,377.00 L559.00,383.40 L584.00,383.60 L647.60,390.60" fill="none" stroke="#383838" stroke-width="1.3" stroke-linejoin="round"/>
<circle cx="489.00" cy="360.40" r="1.35" fill="#383838"/>
<circle cx="494.00" cy="274.40" r="1.35" fill="#383838"/>
<circle cx="499.40" cy="386.00" r="1.35" fill="#383838"/>
<circle cx="505.00" cy="380.40" r="1.35" fill="#383838"/>
<circle cx="511.00" cy="383.60" r="1.35" fill="#383838"/>
<circle cx="517.60" cy="360.40" r="1.35" fill="#383838"/>
<circle cx="525.00" cy="373.60" r="1.35" fill="#383838"/>
<circle cx="534.00" cy="387.00" r="1.35" fill="#383838"/>
<circle cx="545.60" cy="377.00" r="1.35" fill="#383838"/>
<circle cx="559.00" cy="383.40" r="1.35" fill="#383838"/>
<circle cx="584.00" cy="383.60" r="1.35" fill="#383838"/>
<circle cx="647.60" cy="390.60" r="1.35" fill="#383838"/>
<text x="559.1" y="434.3" text-anchor="middle" font-size="15.7">Pore Diameter (nm)</text>
<text transform="translate(460.3,338.2) rotate(-90)" text-anchor="middle" font-size="15.6">dV/dD (a.u.)</text>
<g clip-path="url(#c3)">
<path d="M439.93,478.60 L454.05,474.60 L468.18,472.40 L482.30,470.60 L496.43,468.60 L510.55,467.00 L524.67,465.60 L538.80,464.40 L552.92,462.60 L567.05,461.50 L581.17,460.00 L595.30,458.60 L609.42,457.00 L623.55,454.60 L637.67,453.40 L651.80,450.00 L665.92,445.00 L680.05,437.60 L694.17,403.60 L705.48,275.20" fill="none" stroke="#222222" stroke-width="1.35" stroke-linejoin="round"/>
<circle cx="439.93" cy="478.60" r="1.9" fill="#222222"/>
<circle cx="454.05" cy="474.60" r="1.9" fill="#222222"/>
<circle cx="468.18" cy="472.40" r="1.9" fill="#222222"/>
<circle cx="482.30" cy="470.60" r="1.9" fill="#222222"/>
<circle cx="496.43" cy="468.60" r="1.9" fill="#222222"/>
<circle cx="510.55" cy="467.00" r="1.9" fill="#222222"/>
<circle cx="524.67" cy="465.60" r="1.9" fill="#222222"/>
<circle cx="538.80" cy="464.40" r="1.9" fill="#222222"/>
<circle cx="552.92" cy="462.60" r="1.9" fill="#222222"/>
<circle cx="567.05" cy="461.50" r="1.9" fill="#222222"/>
<circle cx="581.17" cy="460.00" r="1.9" fill="#222222"/>
<circle cx="595.30" cy="458.60" r="1.9" fill="#222222"/>
<circle cx="609.42" cy="457.00" r="1.9" fill="#222222"/>
<circle cx="623.55" cy="454.60" r="1.9" fill="#222222"/>
<circle cx="637.67" cy="453.40" r="1.9" fill="#222222"/>
<circle cx="651.80" cy="450.00" r="1.9" fill="#222222"/>
<circle cx="665.92" cy="445.00" r="1.9" fill="#222222"/>
<circle cx="680.05" cy="437.60" r="1.9" fill="#222222"/>
<circle cx="694.17" cy="403.60" r="1.9" fill="#222222"/>
<circle cx="705.48" cy="275.20" r="1.9" fill="#222222"/>
<path d="M439.93,478.60 L454.05,476.40 L468.18,475.00 L482.30,473.60 L496.43,472.40 L510.55,471.00 L524.67,470.00 L538.80,468.60 L552.92,467.40 L567.05,465.40 L581.17,464.40 L595.30,463.00 L609.42,462.00 L623.55,459.60 L637.67,457.60 L651.80,454.60 L665.92,451.00 L680.05,443.30 L694.17,422.00 L705.48,275.20" fill="none" stroke="#222222" stroke-width="1.35" stroke-linejoin="round"/>
<circle cx="439.93" cy="478.60" r="1.9" fill="#222222"/>
<circle cx="454.05" cy="476.40" r="1.9" fill="#222222"/>
<circle cx="468.18" cy="475.00" r="1.9" fill="#222222"/>
<circle cx="482.30" cy="473.60" r="1.9" fill="#222222"/>
<circle cx="496.43" cy="472.40" r="1.9" fill="#222222"/>
<circle cx="510.55" cy="471.00" r="1.9" fill="#222222"/>
<circle cx="524.67" cy="470.00" r="1.9" fill="#222222"/>
<circle cx="538.80" cy="468.60" r="1.9" fill="#222222"/>
<circle cx="552.92" cy="467.40" r="1.9" fill="#222222"/>
<circle cx="567.05" cy="465.40" r="1.9" fill="#222222"/>
<circle cx="581.17" cy="464.40" r="1.9" fill="#222222"/>
<circle cx="595.30" cy="463.00" r="1.9" fill="#222222"/>
<circle cx="609.42" cy="462.00" r="1.9" fill="#222222"/>
<circle cx="623.55" cy="459.60" r="1.9" fill="#222222"/>
<circle cx="637.67" cy="457.60" r="1.9" fill="#222222"/>
<circle cx="651.80" cy="454.60" r="1.9" fill="#222222"/>
<circle cx="665.92" cy="451.00" r="1.9" fill="#222222"/>
<circle cx="680.05" cy="443.30" r="1.9" fill="#222222"/>
<circle cx="694.17" cy="422.00" r="1.9" fill="#222222"/>
<circle cx="705.48" cy="275.20" r="1.9" fill="#222222"/>
</g>
<rect x="425.9" y="265.1" width="296.9" height="218.5" fill="none" stroke="#8a8a8e" stroke-width="1.7"/>
</svg></body></html>
